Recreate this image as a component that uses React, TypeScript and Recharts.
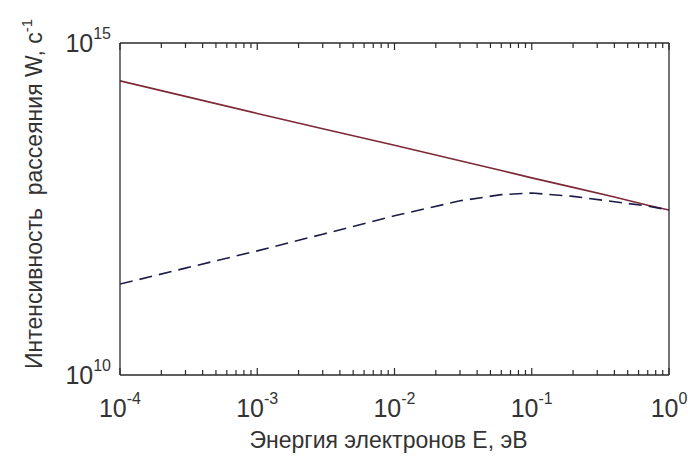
import React from "react";
import { ComposedChart, Line, XAxis, YAxis } from "recharts";

// energy E, eV (log axis)
const energy = [1e-4, 3e-4, 1e-3, 3e-3, 1e-2, 3e-2, 6e-2, 1e-1, 2e-1, 4e-1, 7e-1, 1];
// scattering intensity W, 1/s — solid red curve
const wSolid = [2.69e14, 1.57e14, 8.7e13, 5.1e13, 2.88e13, 1.68e13, 1.2e13, 9.3e12, 6.7e12, 4.8e12, 3.6e12, 3.05e12];
// dashed blue curve
const wDashed = [2.34e11, 4.07e11, 7.4e11, 1.32e12, 2.5e12, 4.2e12, 5.2e12, 5.5e12, 4.9e12, 4.07e12, 3.5e12, 3.05e12];

const xMajor = [1e-4, 1e-3, 1e-2, 1e-1, 1];
const xMinorSteps = [2, 3, 4, 5, 6, 7, 8, 9];
const yMajor = [1e10, 1e15];

const xTicks = [...xMajor, ...xMajor.slice(0, -1).flatMap((d) => xMinorSteps.map((m) => d * m))];

const data = energy.map((e, i) => ({ e, solid: wSolid[i], dashed: wDashed[i] }));

const FONT = '"Liberation Sans", Arial, sans-serif';
const INK = "#2a2a2a";
const TEXT = "#333";

function expOf(v: number) {
  return Math.round(Math.log10(v));
}

function BottomTick(props: any) {
  const { x, y, payload } = props;
  const major = xMajor.includes(payload.value);
  return (
    <g>
      <line x1={x} x2={x} y1={y} y2={y - (major ? 7 : 5)} stroke={INK} strokeWidth={1.2} />
      {major && (
        <text x={x} y={y + 42} textAnchor="middle" fontFamily={FONT} fontSize={25} fill={TEXT}>
          10
          <tspan dy={-13} fontSize={16}>
            {String(expOf(payload.value))}
          </tspan>
        </text>
      )}
    </g>
  );
}

function TopTick(props: any) {
  const { x, y, payload } = props;
  const major = xMajor.includes(payload.value);
  return <line x1={x} x2={x} y1={y} y2={y + (major ? 7 : 5)} stroke={INK} strokeWidth={1.2} />;
}

function LeftTick(props: any) {
  const { y, payload } = props;
  return (
    <text x={111} y={y + 9} textAnchor="end" fontFamily={FONT} fontSize={25} fill={TEXT}>
      10
      <tspan dy={-13} fontSize={16}>
        {String(expOf(payload.value))}
      </tspan>
    </text>
  );
}

export default function App() {
  return (
    <div style={{ position: "fixed", left: 0, top: 0, width: 688, height: 457, background: "#fff" }}>
      <ComposedChart width={688} height={457} data={data} margin={{ top: 13, right: 0, bottom: 0, left: 0 }}>
        <XAxis
          xAxisId="bottom"
          dataKey="e"
          type="number"
          scale="log"
          domain={[1e-4, 1]}
          allowDataOverflow
          ticks={xTicks}
          interval={0}
          height={82}
          tickSize={0}
          tickMargin={0}
          tickLine={false}
          axisLine={{ stroke: INK, strokeWidth: 1.3 }}
          tick={<BottomTick />}
          label={{
            content: (p: any) => {
              const vb = p.viewBox;
              return (
                <text x={vb.x + vb.width / 2 - 6} y={vb.y + 73} textAnchor="middle" fontFamily={FONT} fontSize={23} fill={TEXT}>
                  Энергия электронов E, эВ
                </text>
              );
            },
          }}
        />
        <XAxis
          xAxisId="top"
          orientation="top"
          dataKey="e"
          type="number"
          scale="log"
          domain={[1e-4, 1]}
          allowDataOverflow
          ticks={xTicks}
          interval={0}
          height={30}
          tickSize={0}
          tickMargin={0}
          tickLine={false}
          axisLine={{ stroke: INK, strokeWidth: 1.3 }}
          tick={<TopTick />}
        />
        <YAxis
          yAxisId="left"
          type="number"
          scale="log"
          domain={[1e10, 1e15]}
          allowDataOverflow
          ticks={yMajor}
          interval={0}
          width={120}
          tickSize={0}
          tickMargin={0}
          tickLine={false}
          axisLine={{ stroke: INK, strokeWidth: 1.3 }}
          tick={<LeftTick />}
          label={{
            content: () => (
              <text
                x={42}
                y={194}
                transform="rotate(-90 42 194)"
                textAnchor="middle"
                fontFamily={FONT}
                fontSize={23}
                fill={TEXT}
                style={{ whiteSpace: "pre" }}
              >
                {"Интенсивность  рассеяния W, с"}
                <tspan dy={-10} fontSize={15}>
                  -1
                </tspan>
              </text>
            ),
          }}
        />
        <YAxis
          yAxisId="right"
          orientation="right"
          type="number"
          scale="log"
          domain={[1e10, 1e15]}
          allowDataOverflow
          width={19}
          tick={false}
          tickLine={false}
          axisLine={{ stroke: INK, strokeWidth: 1.3 }}
        />
        <Line
          xAxisId="bottom"
          yAxisId="left"
          type="linear"
          dataKey="solid"
          stroke="#7d2836"
          strokeWidth={1.6}
          dot={false}
          isAnimationActive={false}
        />
        <Line
          xAxisId="bottom"
          yAxisId="left"
          type="linear"
          dataKey="dashed"
          stroke="#1c1c48"
          strokeWidth={1.6}
          strokeDasharray="13 7"
          dot={false}
          isAnimationActive={false}
        />
      </ComposedChart>
    </div>
  );
}
